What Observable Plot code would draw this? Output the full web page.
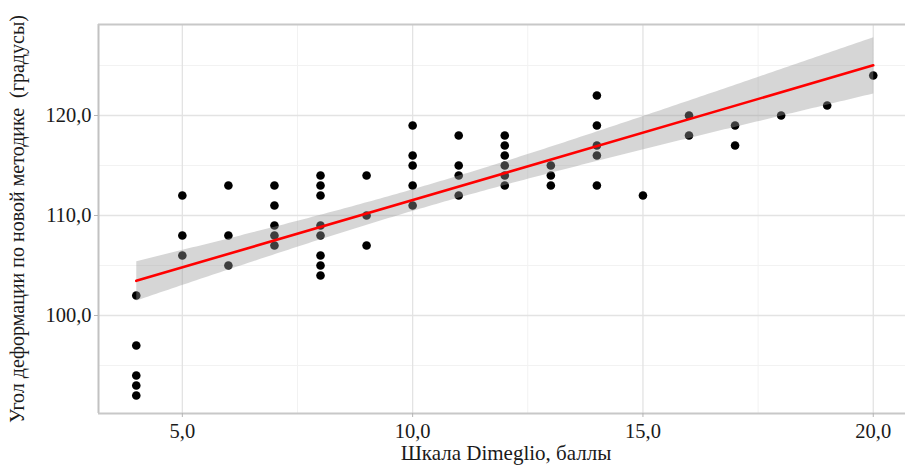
<!DOCTYPE html>
<html>
<head>
<meta charset="utf-8">
<script src="https://cdn.jsdelivr.net/npm/d3@7"></script>
<script src="https://cdn.jsdelivr.net/npm/@observablehq/plot@0.6"></script>
<style>
  html, body { margin: 0; padding: 0; background: #fff; }
  #chart svg { display: block; }
</style>
</head>
<body>
<div id="chart"></div>
<script>
// Dimeglio score groups and the deformation angles observed at each score
const dimeglioScores = [4, 5, 6, 7, 8, 9, 10, 11, 12, 13, 14, 15, 16, 17, 18, 19, 20];
const anglesByScore = [
  [102, 97, 94, 93, 92],
  [112, 108, 106],
  [113, 108, 105],
  [113, 111, 109, 108, 107],
  [114, 113, 112, 109, 108, 106, 105, 104],
  [114, 110, 107],
  [119, 116, 115, 113, 111],
  [118, 115, 114, 112],
  [118, 117, 116, 115, 114, 113],
  [115, 114, 113],
  [122, 119, 117, 116, 113],
  [112],
  [120, 118],
  [119, 117],
  [120],
  [121],
  [124]
];

const xTicks = [5, 10, 15, 20];
const xMinorTicks = [7.5, 12.5, 17.5];
const yTicks = [100, 110, 120];
const yMinorTicks = [95, 105, 115, 125];
const xDomain = [3.18, 20.7];
const yDomain = [90.2, 129.1];

const xTitle = "Шкала Dimeglio, баллы";
const yTitle = "Угол деформации по новой методике  (градусы)";

const data = dimeglioScores.flatMap((s, i) => anglesByScore[i].map(a => ({score: s, angle: a})));

const fmt = d => d.toFixed(1).replace(".", ",");
const font = "'Liberation Serif', 'Times New Roman', serif";

const chart = Plot.plot({
  width: 905,
  height: 466,
  marginLeft: 98,
  marginRight: 0,
  marginTop: 24,
  marginBottom: 53,
  style: {fontFamily: font, fontSize: "20px", color: "#1a1a1a", background: "#fff"},
  x: {domain: xDomain, label: null},
  y: {domain: yDomain, label: null},
  marks: [
    Plot.gridX(xMinorTicks, {stroke: "#f2f2f2", strokeOpacity: 1, strokeWidth: 1}),
    Plot.gridY(yMinorTicks, {stroke: "#f2f2f2", strokeOpacity: 1, strokeWidth: 1}),
    Plot.gridX(xTicks, {stroke: "#e3e3e3", strokeOpacity: 1, strokeWidth: 1.3}),
    Plot.gridY(yTicks, {stroke: "#e3e3e3", strokeOpacity: 1, strokeWidth: 1.3}),
    Plot.ruleX([xDomain[0]], {stroke: "#c2c2c2", strokeWidth: 2}),
    Plot.ruleY(yDomain, {stroke: "#c8c8c8", strokeWidth: 2}),
    Plot.axisX(xTicks, {tickFormat: fmt, tickSize: 4, tickPadding: 6, stroke: "#b5b5b5", fontSize: 20.5, label: null}),
    Plot.axisY(yTicks, {tickFormat: fmt, tickSize: 4, tickPadding: 3, stroke: "#b5b5b5", fontSize: 20.5, label: null}),
    Plot.dot(data, {x: "score", y: "angle", r: 4.3, fill: "#000", stroke: "none"}),
    Plot.linearRegressionY(data, {x: "score", y: "angle", stroke: "#ff0000", strokeWidth: 2.6, fill: "#999999", fillOpacity: 0.4, ci: 0.95}),
    Plot.text([xTitle], {frameAnchor: "bottom", textAnchor: "middle", dx: 4, dy: 40, lineAnchor: "middle", fontSize: 21, fill: "#1a1a1a"}),
    Plot.text([yTitle], {frameAnchor: "left", textAnchor: "middle", dx: -81, dy: 0, rotate: -90, lineAnchor: "middle", fontSize: 20, fill: "#1a1a1a"})
  ]
});

document.getElementById("chart").appendChild(chart);
</script>
</body>
</html>
